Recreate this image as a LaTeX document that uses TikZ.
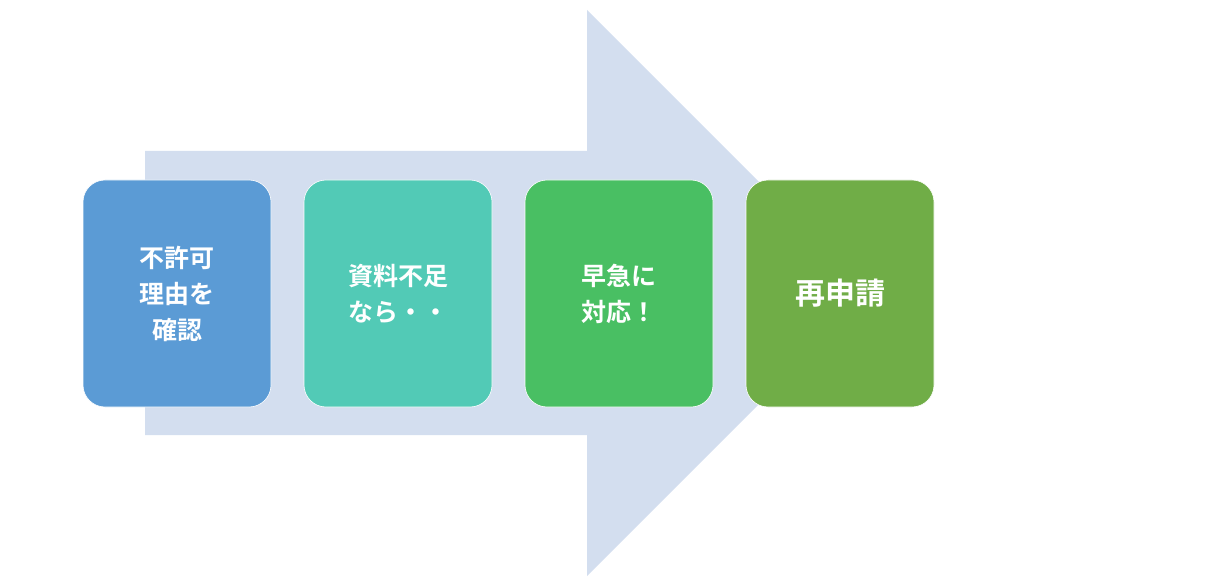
\documentclass[tikz,border=0pt]{standalone}
\usepackage{fontspec}
\newfontfamily\cjk{Noto Sans CJK JP Bold}
\begin{document}
\begin{tikzpicture}[x=1pt,y=-1pt,
box/.style={draw=white,line width=0.6pt,rounded corners=22pt,minimum width=188pt,minimum height=227pt,inner sep=0pt,text=white,font=\cjk\fontsize{25}{36}\selectfont,align=center}]
\useasboundingbox (0,0) rectangle (1225,585);
\definecolor{arr}{HTML}{D3DEEF}
\fill[arr] (145,151) -- (587,151) -- (587,10) -- (870,293) -- (587,576) -- (587,435) -- (145,435) -- cycle;
\node[box,fill={rgb,255:red,91;green,155;blue,213}] (a) at (177,293.5) {不許可\\理由を\\確認};
\node[box,fill={rgb,255:red,82;green,202;blue,182}] (b) at (398,293.5) {資料不足\\なら・・};
\node[box,fill={rgb,255:red,73;green,191;blue,99}] (c) at (619,293.5) {早急に\\対応！};
\node[box,fill={rgb,255:red,112;green,173;blue,71},font=\cjk\fontsize{30}{36}\selectfont] (d) at (840,293.5) {再申請};
\end{tikzpicture}
\end{document}
